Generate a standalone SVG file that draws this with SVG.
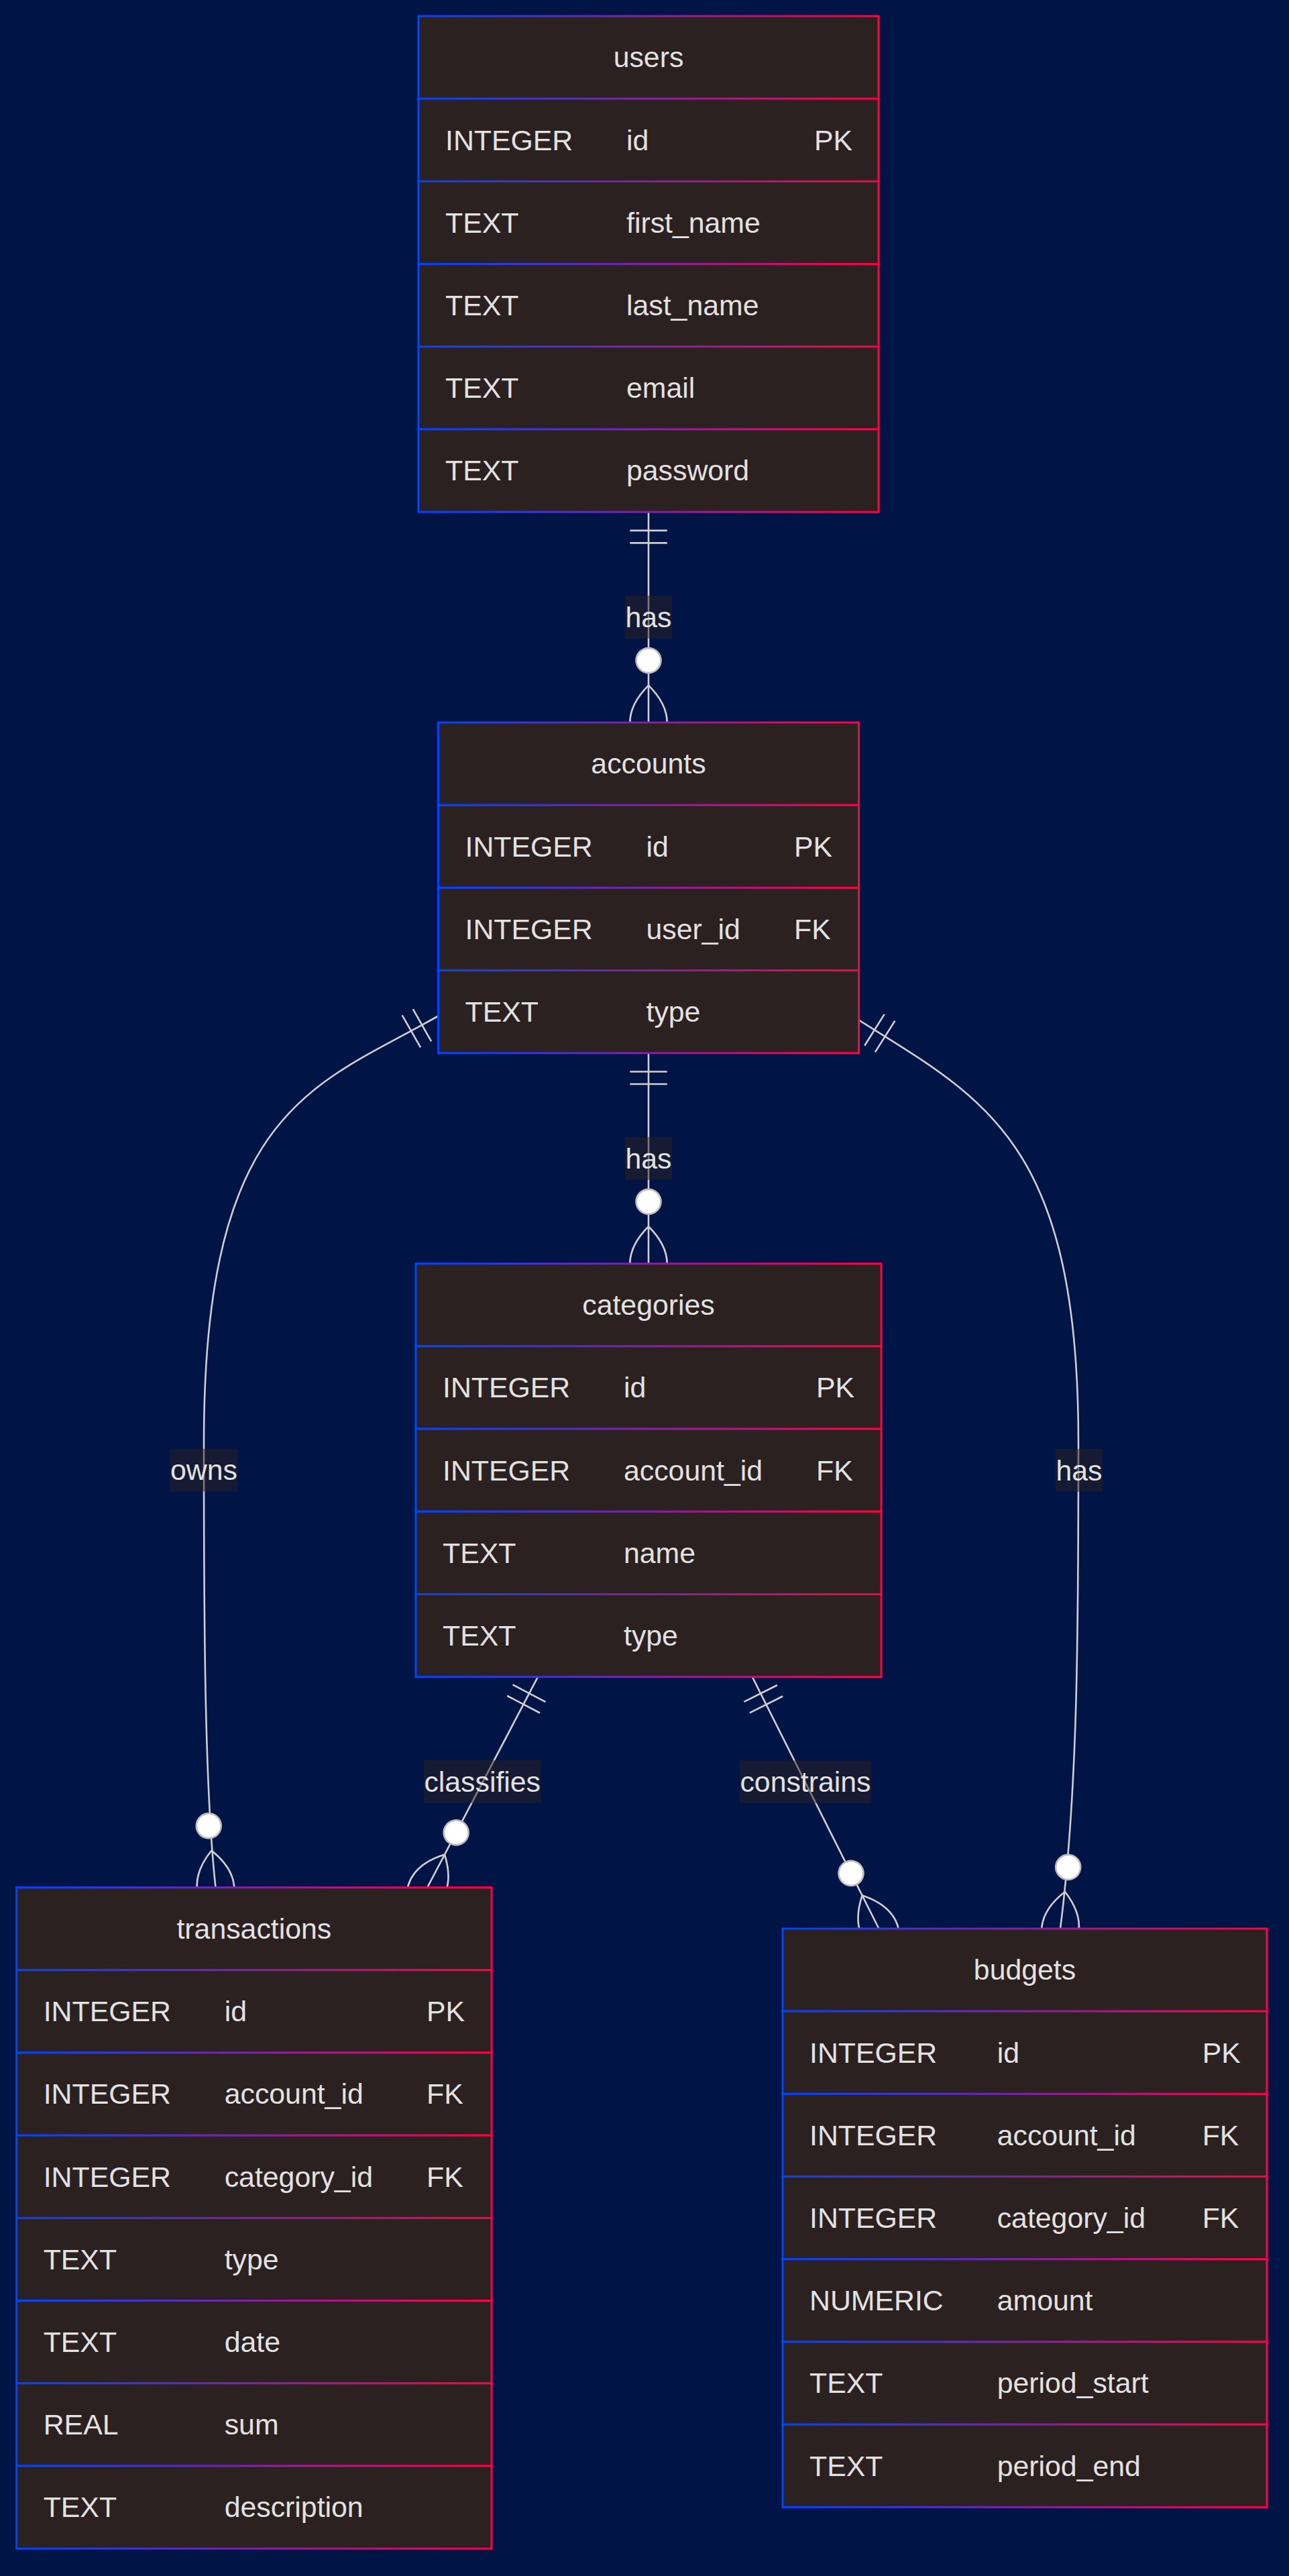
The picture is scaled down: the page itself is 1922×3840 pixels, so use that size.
<svg xmlns="http://www.w3.org/2000/svg" width="1922" height="3840" viewBox="0 0 1922 3840">
<style>
.row{fill:#2b2120;stroke:url(#g);stroke-width:3}
.t{font-family:"Liberation Sans",Arial,Helvetica,sans-serif;font-size:42.8px;fill:#e2e2e2}
.c{text-anchor:middle}
.edge{fill:none;stroke:#cfcfcf;stroke-width:2.6}
.lbl{fill:#2b2120;opacity:0.5}
</style>
<defs>
<linearGradient id="g" x1="0" y1="0" x2="1" y2="0">
<stop offset="0" stop-color="#0044ff"/>
<stop offset="1" stop-color="#ff0044"/>
</linearGradient>
<marker id="oneStart" markerUnits="userSpaceOnUse" viewBox="0 0 18 18" markerWidth="55.44" markerHeight="55.44" refX="0" refY="9" orient="auto">
<path d="M9,0 L9,18 M15,0 L15,18" fill="none" stroke="#cfcfcf" stroke-width="0.85"/>
</marker>
<marker id="zeroManyEnd" markerUnits="userSpaceOnUse" viewBox="0 0 57 36" markerWidth="175.56" markerHeight="110.88" refX="39" refY="18" orient="auto">
<circle cx="9" cy="18" r="6" fill="#ffffff" stroke="#bdbdbd" stroke-width="0.85"/>
<path d="M21,18 Q39,0 57,18 Q39,36 21,18" fill="none" stroke="#cfcfcf" stroke-width="0.85"/>
</marker>
</defs>
<rect x="0" y="0" width="1922" height="3840" fill="#001446"/>

<g id="connectors">
<path class="edge" d="M967,763.2 L967,1077" marker-start="url(#oneStart)" marker-end="url(#zeroManyEnd)"/>
<path class="edge" d="M967,1569.8 L967,1883.7" marker-start="url(#oneStart)" marker-end="url(#zeroManyEnd)"/>
<path class="edge" d="M653.5,1514.5 C470,1619 304,1650 304,2150 C304,2400 304.7,2663.6 321.5,2813.6" marker-start="url(#oneStart)" marker-end="url(#zeroManyEnd)"/>
<path class="edge" d="M1280.5,1520.5 C1466,1637.8 1608,1700 1608,2150 C1608,2450 1606.5,2675 1581,2875" marker-start="url(#oneStart)" marker-end="url(#zeroManyEnd)"/>
<path class="edge" d="M802,2499.7 L637.2,2813.6" marker-start="url(#oneStart)" marker-end="url(#zeroManyEnd)"/>
<path class="edge" d="M1121.7,2499.7 L1310.5,2875" marker-start="url(#oneStart)" marker-end="url(#zeroManyEnd)"/>
<g id="edge-labels">
<rect class="lbl" x="932" y="888" width="70" height="64"/>
<text class="t c" x="967" y="934.8">has</text>
<rect class="lbl" x="932" y="1694.8" width="70" height="64"/>
<text class="t c" x="967" y="1741.6">has</text>
<rect class="lbl" x="254" y="2159.5" width="100" height="64"/>
<text class="t c" x="304" y="2206.3">owns</text>
<rect class="lbl" x="632" y="2624" width="174.5" height="64"/>
<text class="t c" x="719.2" y="2670.8">classifies</text>
<rect class="lbl" x="1103" y="2624.3" width="196" height="64"/>
<text class="t c" x="1201" y="2671">constrains</text>
<rect class="lbl" x="1574" y="2159.7" width="70" height="64"/>
<text class="t c" x="1609" y="2206.5">has</text>
</g>
</g>

<g id="users">
<rect class="row" x="624" y="24" width="686" height="123.2"/>
<rect class="row" x="624" y="147.2" width="686" height="123.2"/>
<rect class="row" x="624" y="270.4" width="686" height="123.2"/>
<rect class="row" x="624" y="393.6" width="686" height="123.2"/>
<rect class="row" x="624" y="516.8" width="686" height="123.2"/>
<rect class="row" x="624" y="640" width="686" height="123.2"/>
<text class="t c" x="967" y="100.4">users</text>
<text class="t" x="664" y="223.6">INTEGER</text><text class="t" x="934" y="223.6">id</text><text class="t" x="1214" y="223.6">PK</text>
<text class="t" x="664" y="346.8">TEXT</text><text class="t" x="934" y="346.8">first_name</text>
<text class="t" x="664" y="470">TEXT</text><text class="t" x="934" y="470">last_name</text>
<text class="t" x="664" y="593.2">TEXT</text><text class="t" x="934" y="593.2">email</text>
<text class="t" x="664" y="716.4">TEXT</text><text class="t" x="934" y="716.4">password</text>
</g>

<g id="accounts">
<rect class="row" x="653.5" y="1077" width="627" height="123.2"/>
<rect class="row" x="653.5" y="1200.2" width="627" height="123.2"/>
<rect class="row" x="653.5" y="1323.4" width="627" height="123.2"/>
<rect class="row" x="653.5" y="1446.6" width="627" height="123.2"/>
<text class="t c" x="967" y="1153.4">accounts</text>
<text class="t" x="693.5" y="1276.6">INTEGER</text><text class="t" x="963.5" y="1276.6">id</text><text class="t" x="1184" y="1276.6">PK</text>
<text class="t" x="693.5" y="1399.8">INTEGER</text><text class="t" x="963.5" y="1399.8">user_id</text><text class="t" x="1184" y="1399.8">FK</text>
<text class="t" x="693.5" y="1523">TEXT</text><text class="t" x="963.5" y="1523">type</text>
</g>

<g id="categories">
<rect class="row" x="620" y="1883.7" width="694" height="123.2"/>
<rect class="row" x="620" y="2006.9" width="694" height="123.2"/>
<rect class="row" x="620" y="2130.1" width="694" height="123.2"/>
<rect class="row" x="620" y="2253.3" width="694" height="123.2"/>
<rect class="row" x="620" y="2376.5" width="694" height="123.2"/>
<text class="t c" x="967" y="1960.1">categories</text>
<text class="t" x="660" y="2083.3">INTEGER</text><text class="t" x="930" y="2083.3">id</text><text class="t" x="1217" y="2083.3">PK</text>
<text class="t" x="660" y="2206.5">INTEGER</text><text class="t" x="930" y="2206.5">account_id</text><text class="t" x="1217" y="2206.5">FK</text>
<text class="t" x="660" y="2329.7">TEXT</text><text class="t" x="930" y="2329.7">name</text>
<text class="t" x="660" y="2452.9">TEXT</text><text class="t" x="930" y="2452.9">type</text>
</g>

<g id="transactions">
<rect class="row" x="24.7" y="2813.6" width="708.3" height="123.2"/>
<rect class="row" x="24.7" y="2936.8" width="708.3" height="123.2"/>
<rect class="row" x="24.7" y="3060" width="708.3" height="123.2"/>
<rect class="row" x="24.7" y="3183.2" width="708.3" height="123.2"/>
<rect class="row" x="24.7" y="3306.4" width="708.3" height="123.2"/>
<rect class="row" x="24.7" y="3429.6" width="708.3" height="123.2"/>
<rect class="row" x="24.7" y="3552.8" width="708.3" height="123.2"/>
<rect class="row" x="24.7" y="3676" width="708.3" height="123.2"/>
<text class="t c" x="378.85" y="2890">transactions</text>
<text class="t" x="64.7" y="3013.2">INTEGER</text><text class="t" x="334.7" y="3013.2">id</text><text class="t" x="636" y="3013.2">PK</text>
<text class="t" x="64.7" y="3136.4">INTEGER</text><text class="t" x="334.7" y="3136.4">account_id</text><text class="t" x="636" y="3136.4">FK</text>
<text class="t" x="64.7" y="3259.6">INTEGER</text><text class="t" x="334.7" y="3259.6">category_id</text><text class="t" x="636" y="3259.6">FK</text>
<text class="t" x="64.7" y="3382.8">TEXT</text><text class="t" x="334.7" y="3382.8">type</text>
<text class="t" x="64.7" y="3506">TEXT</text><text class="t" x="334.7" y="3506">date</text>
<text class="t" x="64.7" y="3629.2">REAL</text><text class="t" x="334.7" y="3629.2">sum</text>
<text class="t" x="64.7" y="3752.4">TEXT</text><text class="t" x="334.7" y="3752.4">description</text>
</g>

<g id="budgets">
<rect class="row" x="1167" y="2875" width="722" height="123.2"/>
<rect class="row" x="1167" y="2998.2" width="722" height="123.2"/>
<rect class="row" x="1167" y="3121.4" width="722" height="123.2"/>
<rect class="row" x="1167" y="3244.6" width="722" height="123.2"/>
<rect class="row" x="1167" y="3367.8" width="722" height="123.2"/>
<rect class="row" x="1167" y="3491" width="722" height="123.2"/>
<rect class="row" x="1167" y="3614.2" width="722" height="123.2"/>
<text class="t c" x="1528" y="2951.4">budgets</text>
<text class="t" x="1207" y="3074.6">INTEGER</text><text class="t" x="1486.7" y="3074.6">id</text><text class="t" x="1792.7" y="3074.6">PK</text>
<text class="t" x="1207" y="3197.8">INTEGER</text><text class="t" x="1486.7" y="3197.8">account_id</text><text class="t" x="1792.7" y="3197.8">FK</text>
<text class="t" x="1207" y="3321">INTEGER</text><text class="t" x="1486.7" y="3321">category_id</text><text class="t" x="1792.7" y="3321">FK</text>
<text class="t" x="1207" y="3444.2">NUMERIC</text><text class="t" x="1486.7" y="3444.2">amount</text>
<text class="t" x="1207" y="3567.4">TEXT</text><text class="t" x="1486.7" y="3567.4">period_start</text>
<text class="t" x="1207" y="3690.6">TEXT</text><text class="t" x="1486.7" y="3690.6">period_end</text>
</g>
</svg>
